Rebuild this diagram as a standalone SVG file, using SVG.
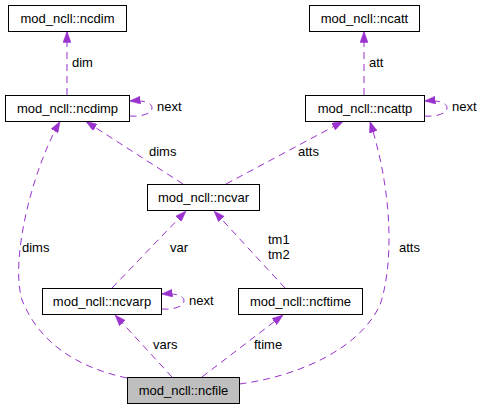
<svg xmlns="http://www.w3.org/2000/svg" width="483" height="409" viewBox="0 0 483 409">
<style>
.node rect{fill:#ffffff;stroke:#000000;stroke-width:1}
#ncfile rect{fill:#bfbfbf}
text{font-family:"Liberation Sans",Arial,sans-serif;font-size:13px;fill:#000000}
.node text{text-anchor:middle}
.edge{fill:none;stroke:#9a32cd;stroke-width:1;stroke-dasharray:7,5;marker-end:url(#ah)}
</style>
<defs>
<marker id="ah" viewBox="0 0 11 8" refX="11" refY="4" markerWidth="11" markerHeight="8" orient="auto" markerUnits="userSpaceOnUse">
<path d="M0,0 L11,4 L0,8 z" fill="#9a32cd" stroke="#9a32cd" stroke-width="0.5"/>
</marker>
</defs>
<rect width="483" height="409" fill="#ffffff"/>
<g id="connectors">
<path class="edge" d="M67,95 L67,31.5"/>
<path class="edge" d="M364,95 L364,31.5"/>
<path class="edge" d="M129.5,116 C140,117 152,114 152,108 C152,102 142,100 129.5,101"/>
<path class="edge" d="M424.5,116 C435,117 447,114 447,108 C447,102 437,100 424.5,101"/>
<path class="edge" d="M161.5,309 C172,310 184,307 184,301 C184,295 174,293 161.5,294"/>
<path class="edge" d="M183,184 L86,121.5"/>
<path class="edge" d="M226,184 L343,121.5"/>
<path class="edge" d="M112,288 L186,211"/>
<path class="edge" d="M285,288 L214,211"/>
<path class="edge" d="M172,377 L115,315"/>
<path class="edge" d="M202,377 L283,315"/>
<path class="edge" d="M127,378 C80,368 40,345 22,300 C10,260 32,170 60,121.5"/>
<path class="edge" d="M239.5,384 C300,376 360,348 380,305 C392,270 395,200 370,121.5"/>
<text x="72" y="67">dim</text>
<text x="369" y="67">att</text>
<text x="157" y="111">next</text>
<text x="452" y="111">next</text>
<text x="149" y="156">dims</text>
<text x="298" y="156">atts</text>
<text x="170" y="252">var</text>
<text x="268" y="244">tm1</text>
<text x="268" y="259">tm2</text>
<text x="22" y="252">dims</text>
<text x="399" y="252">atts</text>
<text x="189" y="305">next</text>
<text x="153" y="349">vars</text>
<text x="254" y="349">ftime</text>
</g>
<g id="ncdim" class="node"><rect x="8.5" y="5.5" width="118" height="26"/><text x="67.5" y="22.5">mod_ncll::ncdim</text></g>
<g id="ncatt" class="node"><rect x="309.5" y="5.5" width="110" height="26"/><text x="364.5" y="22.5">mod_ncll::ncatt</text></g>
<g id="ncdimp" class="node"><rect x="5.5" y="95.5" width="124" height="26"/><text x="67.5" y="112.5">mod_ncll::ncdimp</text></g>
<g id="ncattp" class="node"><rect x="305.5" y="95.5" width="119" height="26"/><text x="365" y="112.5">mod_ncll::ncattp</text></g>
<g id="ncvar" class="node"><rect x="147.5" y="184.5" width="112" height="26"/><text x="203.5" y="201.5">mod_ncll::ncvar</text></g>
<g id="ncvarp" class="node"><rect x="42.5" y="288.5" width="119" height="26"/><text x="102" y="305.5">mod_ncll::ncvarp</text></g>
<g id="ncftime" class="node"><rect x="238.5" y="288.5" width="124" height="26"/><text x="300.5" y="305.5">mod_ncll::ncftime</text></g>
<g id="ncfile" class="node"><rect x="127.5" y="377.5" width="112" height="26"/><text x="183.5" y="394.5">mod_ncll::ncfile</text></g>
</svg>
